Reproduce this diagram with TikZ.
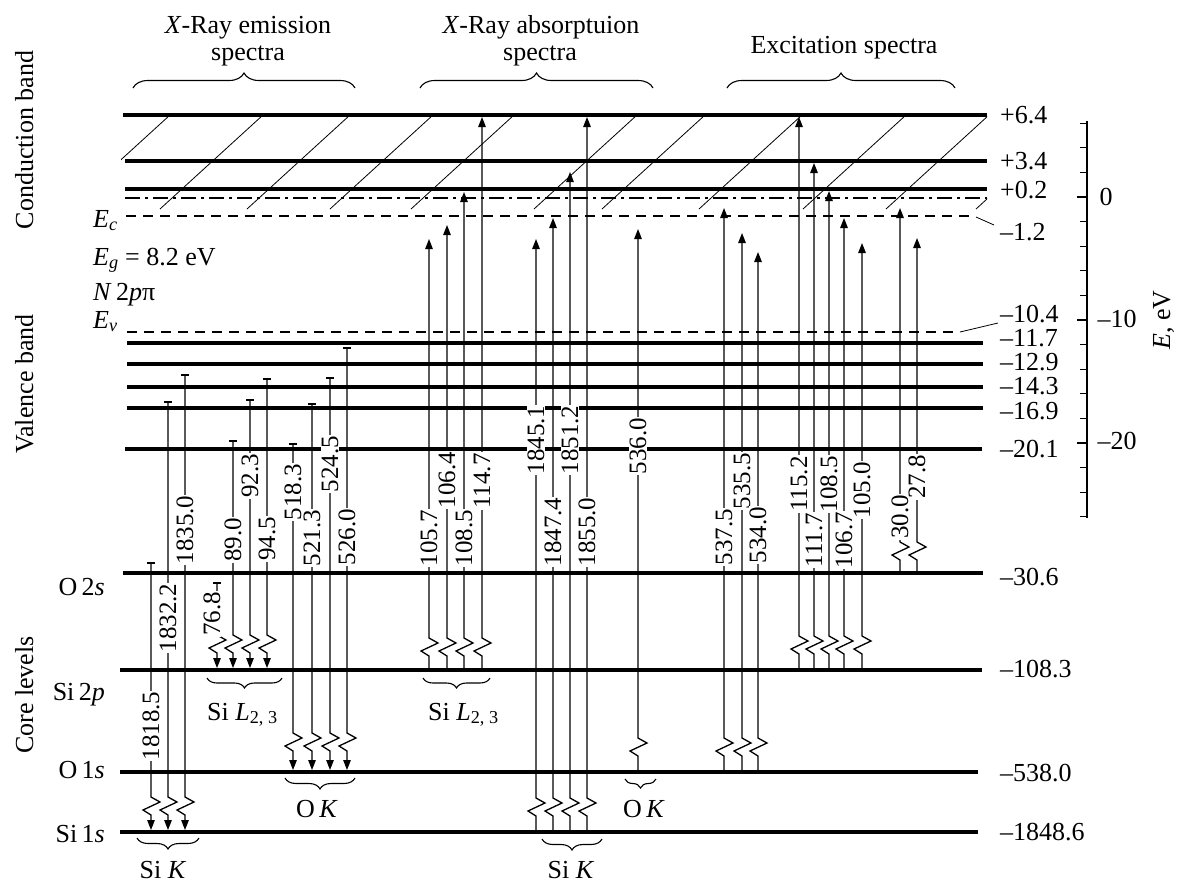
\documentclass[tikz,border=0pt]{standalone}
\usepackage{fontspec}
\setmainfont{Liberation Serif}
\usetikzlibrary{arrows.meta,decorations.pathreplacing}
\begin{document}
\begin{tikzpicture}[x=1pt,y=-1pt,
  lvl/.style={line width=3.3pt},
  tr/.style={line width=1.3pt},
  thinln/.style={line width=0.8pt},
  arr/.style={tr,-{Triangle[length=10pt,width=7.5pt]}},
  lab/.style={rotate=90,fill=white,inner sep=1pt,font=\fontsize{25}{28}\selectfont},
  txt/.style={font=\fontsize{26}{30}\selectfont,inner sep=0pt},
  val/.style={txt,anchor=west},
  brc/.style={decorate,line width=1.1pt},
]
\useasboundingbox (0,0) rectangle (1177,884);

% hatching of the conduction band
\begin{scope}
\clip (121,115) rectangle (987,209);
\foreach \b in {67,160,247,330,411,534,602,699,803,886,976}
  \draw[thinln] (\b,209) -- ++(103,-94);
\end{scope}

% levels
\draw[lvl] (123,115) -- (987,115);
\draw[lvl] (125,161) -- (987,161);
\draw[lvl] (125,189) -- (987,189);
\draw[tr,dash pattern=on 15pt off 5pt on 3pt off 5pt] (125,198) -- (987,198);
\draw[tr,dash pattern=on 10pt off 7pt] (126,216) -- (976,216);
\draw[tr,dash pattern=on 10pt off 7pt] (127,332) -- (960,332);
\draw[lvl] (127,343) -- (983,343);
\draw[lvl] (127,364) -- (983,364);
\draw[lvl] (127,387) -- (983,387);
\draw[lvl] (127,408) -- (983,408);
\draw[lvl] (125,449) -- (982,449);
\draw[lvl] (123,573) -- (983,573);
\draw[lvl] (120,670) -- (982,670);
\draw[lvl] (120,772) -- (978,772);
\draw[lvl] (120,832) -- (978,832);

% leaders to labels
\coordinate (ec) at (976,217);
\coordinate (ecl) at (994,225);
\coordinate (ev) at (960,332);
\coordinate (evl) at (998,323);
\draw[thinln] (ec) -- (ecl);
\draw[thinln] (ev) -- (evl);

% emission transitions (downwards)
\foreach \x/\c/\z/\e in {151/563/797/830, 168/402/797/830, 185/375/797/830,
  217/583/635/668, 233/441/635/668, 250/400/635/668, 267/379/635/668,
  293/444/733/770, 312/404/733/770, 330/378/733/770, 347/348/733/770}{
  \draw[tr] (\x-4,\c) -- (\x+4,\c);
  \draw[arr] (\x,\c) -- (\x,\z) -- ++(9,5) -- ++(-17,8) -- ++(8,5) -- (\x,\e);
}

% absorption and excitation transitions (upwards)
\foreach \x/\s/\z/\t in {429/669/656/239, 447/669/656/225, 464/669/656/192, 482/669/656/117,
  536/831/816/239, 553/831/816/218, 570/831/816/172, 587/831/816/117,
  638/771/756/229,
  724/771/756/208, 742/771/756/233, 758/771/756/252,
  799/669/654/117, 814/669/654/163, 829/669/654/191, 844/669/654/218, 862/669/654/243,
  900/572/560/208, 917/572/560/238}{
  \draw[arr] (\x,\s) -- (\x,\z) -- ++(-8,-5) -- ++(17,-8) -- ++(-9,-5) -- (\x,\t);
}

% energy labels on the transitions
\foreach \x/\y/\t in {151/726/1818.5, 168/618/1832.2, 185/530/1835.0, 212/614/76.8,
  233/540/89.0, 250/476/92.3, 267/539/94.5,
  293/492/518.3, 312/538/521.3, 330/464/524.5, 347/537/526.0,
  429/538/105.7, 447/480/106.4, 464/538/108.5, 482/481/114.7,
  536/440/1845.1, 553/532/1847.4, 570/440/1851.2, 587/532/1855.0,
  638/446/536.0,
  724/537/537.5, 742/481/535.5, 758/535/534.0,
  799/484/115.2, 814/540/111.7, 829/484/108.5, 844/540/106.7, 862/490/105.0,
  900/517/30.0, 917/477/27.8}
  \node[lab] (t\x) at (\x,\y) {\t};

% braces
\draw[brc,decoration={brace,amplitude=15pt}] (133,88) -- (355,88);
\draw[brc,decoration={brace,amplitude=15pt}] (420,88) -- (653,88);
\draw[brc,decoration={brace,amplitude=15pt}] (727,88) -- (955,88);
\draw[brc,decoration={brace,amplitude=11pt}] (199,838) -- (137,838);
\draw[brc,decoration={brace,amplitude=10pt}] (282,678) -- (207,678);
\draw[brc,decoration={brace,amplitude=11pt}] (355,778) -- (285,778);
\draw[brc,decoration={brace,amplitude=10pt}] (490,678) -- (423,678);
\draw[brc,decoration={brace,amplitude=11pt}] (602,839) -- (542,839);
\draw[brc,decoration={brace,amplitude=9pt}] (656,779) -- (625,779);

% titles
\node[txt,anchor=base] (h1) at (248,33) {\textit{X}-Ray emission};
\node[txt,anchor=base] (h1b) at (248,60) {spectra};
\node[txt,anchor=base] (h2) at (541,33) {\textit{X}-Ray absorptuion};
\node[txt,anchor=base] (h2b) at (540,60) {spectra};
\node[txt,anchor=base] (h3) at (844,53) {Excitation spectra};

% brace labels
\node[txt,anchor=base] (b1) at (163,878) {Si \textit{K}};
\node[txt,anchor=base west] (b2) at (207,720) {Si \textit{L}\textsubscript{2, 3}};
\node[txt,anchor=base] (b3) at (317,817) {O\,\textit{K}};
\node[txt,anchor=base west] (b4) at (428,720) {Si \textit{L}\textsubscript{2, 3}};
\node[txt,anchor=base] (b5) at (571,878) {Si \textit{K}};
\node[txt,anchor=base] (b6) at (644,817) {O\,\textit{K}};

% left labels
\node[txt,anchor=base,rotate=90] (cb) at (33,140) {Conduction band};
\node[txt,anchor=base,rotate=90] (vb) at (33,384) {Valence band};
\node[txt,anchor=base,rotate=90] (cl) at (33,695) {Core levels};
\node[txt,anchor=base west] (Ec) at (93,227) {\textit{E}\textsubscript{\textit{c}}};
\node[txt,anchor=base west] (Eg) at (93,265) {\textit{E}\textsubscript{\textit{g}} = 8.2 eV};
\node[txt,anchor=base west] (N2p) at (93,300) {\textit{N}\,2\textit{p}π};
\node[txt,anchor=base west] (Ev) at (93,328) {\textit{E}\textsubscript{\textit{v}}};
\node[txt,anchor=base east] (o2s) at (105,595) {O\,2\textit{s}};
\node[txt,anchor=base east] (si2p) at (105,700) {Si\,2\textit{p}};
\node[txt,anchor=base east] (o1s) at (105,778) {O\,1\textit{s}};
\node[txt,anchor=base east] (si1s) at (105,842) {Si\,1\textit{s}};

% right values
\foreach \y/\t [count=\i] in {115/+6.4, 161/+3.4, 190/+0.2, 232/–1.2, 314/–10.4, 338/–11.7,
  362/–12.9, 386/–14.3, 411/–16.9, 449/–20.1, 577/–30.6, 669/–108.3, 773/–538.0, 832/–1848.6}
  \node[val] (v\i) at (1000,\y) {\t};

% energy axis
\draw[line width=2.2pt] (1087,121) -- (1087,518);
\foreach \k in {-3,...,13}{
  \draw[line width=1.3pt] (1087,197+24.6*\k) -- (1080,197+24.6*\k);
}
\foreach \k in {0,5,10}{
  \draw[line width=1.3pt] (1087,197+24.6*\k) -- (1077,197+24.6*\k);
}
\node[txt] (a0) at (1106,197) {0};
\node[txt] (a10) at (1117,319) {–10};
\node[txt] (a20) at (1117,441) {–20};
\node[txt,anchor=base,rotate=90] (aE) at (1170,320) {\textit{E}, eV};
\end{tikzpicture}
\end{document}
